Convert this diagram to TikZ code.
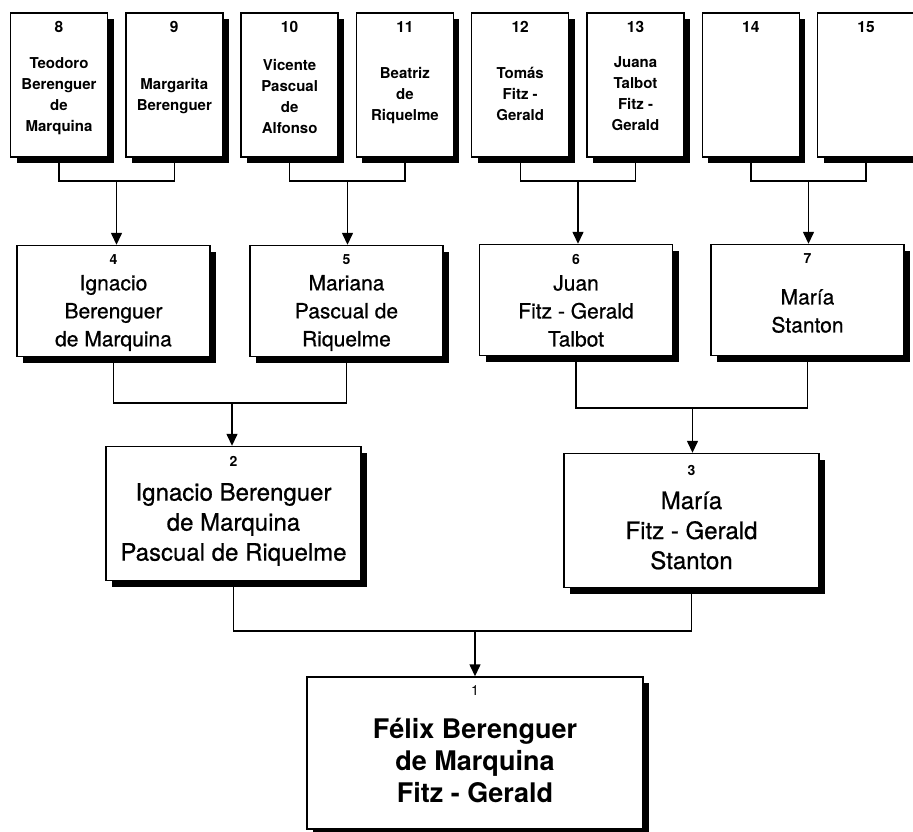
\documentclass[tikz,border=0pt]{standalone}
\usepackage{fontspec}
\setmainfont{TeX Gyre Heros}
\newfontfamily\inkfont{TeX Gyre Heros}[FakeBold=0.7]
\usetikzlibrary{arrows.meta,shadows,positioning}

\begin{document}
\begin{tikzpicture}[x=1pt,y=-1pt,
   box/.style={draw, line width=1.4pt, fill=white, inner sep=0pt,
      drop shadow={opacity=1, fill=black, shadow xshift=6pt, shadow yshift=-6pt}},
   gtop/.style={box, minimum width=97pt, minimum height=144pt},
   gmid/.style={box, minimum width=193pt, minimum height=111pt},
   glow/.style={box, minimum width=255pt, minimum height=134pt},
   groot/.style={box, minimum width=336pt, minimum height=152pt},
   numtop/.style={inner sep=0pt, font=\fontsize{15.5}{17}\selectfont\bfseries},
   num/.style={inner sep=0pt, font=\fontsize{14}{16}\selectfont\bfseries},
   ntop/.style={align=center, inner sep=0pt, font=\fontsize{15}{21}\selectfont\bfseries},
   nmid/.style={align=center, inner sep=0pt, font=\inkfont\fontsize{21}{28}\selectfont},
   nlow/.style={align=center, inner sep=0pt, font=\inkfont\fontsize{24}{30}\selectfont},
   nroot/.style={align=center, inner sep=0pt, font=\fontsize{27}{32}\selectfont\bfseries},
   link/.style={line width=1.4pt},
   arr/.style={link, -{Triangle[length=12pt,width=11pt]}}]
   \useasboundingbox (0,0) rectangle (913,832);

   % great-grandparents
   \node[gtop] (b8) at (59,85) {};
   \node[gtop] (b9) at (174.3,85) {};
   \node[gtop] (b10) at (289.6,85) {};
   \node[gtop] (b11) at (404.9,85) {};
   \node[gtop] (b12) at (520.2,85) {};
   \node[gtop] (b13) at (635.5,85) {};
   \node[gtop] (b14) at (750.8,85) {};
   \node[gtop] (b15) at (866.1,85) {};
   \node[numtop, below=9pt of b8.north] (n8) {8};
   \node[numtop, below=9pt of b9.north] (n9) {9};
   \node[numtop, below=9pt of b10.north] (n10) {10};
   \node[numtop, below=9pt of b11.north] (n11) {11};
   \node[numtop, below=9pt of b12.north] (n12) {12};
   \node[numtop, below=9pt of b13.north] (n13) {13};
   \node[numtop, below=9pt of b14.north] (n14) {14};
   \node[numtop, below=9pt of b15.north] (n15) {15};
   \node[ntop] (t8) at ([yshift=-11pt]b8.center) {Teodoro\\Berenguer\\de\\Marquina};
   \node[ntop] (t9) at ([yshift=-11pt]b9.center) {Margarita\\Berenguer};
   \node[ntop] (t10) at ([yshift=-11pt]b10.center) {Vicente\\Pascual\\de\\Alfonso};
   \node[ntop] (t11) at ([yshift=-11pt]b11.center) {Beatriz\\de\\Riquelme};
   \node[ntop] (t12) at ([yshift=-9pt]b12.center) {Tomás\\Fitz -\\Gerald};
   \node[ntop] (t13) at ([yshift=-9pt]b13.center) {Juana\\Talbot\\Fitz -\\Gerald};

   % grandparents
   \node[gmid] (b4) at (113.5,301) {};
   \node[gmid] (b5) at (346.5,301) {};
   \node[gmid] (b6) at (576,300) {};
   \node[gmid] (b7) at (807.5,300) {};
   \node[num, below=10pt of b4.north] (n4) {4};
   \node[num, below=10pt of b5.north] (n5) {5};
   \node[num, below=10pt of b6.north] (n6) {6};
   \node[num, below=10pt of b7.north] (n7) {7};
   \node[nmid] (t4) at ([yshift=-12pt]b4.center) {Ignacio\\Berenguer\\de Marquina};
   \node[nmid] (t5) at ([yshift=-12pt]b5.center) {Mariana\\Pascual de\\Riquelme};
   \node[nmid] (t6) at ([yshift=-11pt]b6.center) {Juan\\Fitz - Gerald\\Talbot};
   \node[nmid] (t7) at ([yshift=-11pt]b7.center) {María\\Stanton};

   % parents
   \node[glow] (b2) at (233.5,513.5) {};
   \node[glow] (b3) at (691.5,520.5) {};
   \node[num, below=10pt of b2.north] (n2) {2};
   \node[num, below=12pt of b3.north] (n3) {3};
   \node[nlow] (t2) at ([yshift=-11pt]b2.center) {Ignacio Berenguer\\de Marquina\\Pascual de Riquelme};
   \node[nlow] (t3) at ([yshift=-10pt]b3.center) {María\\Fitz - Gerald\\Stanton};

   % subject
   \node[groot] (b1) at (475,753) {};
   \node[num, font=\fontsize{14}{16}\selectfont, below=9pt of b1.north] (n1) {1};
   \node[nroot] (t1) at ([yshift=-8pt]b1.center) {Félix Berenguer\\de Marquina\\Fitz - Gerald};

   % connectors
   \coordinate (j4) at (116.5,181);
   \coordinate (j5) at (347.5,181);
   \coordinate (j6) at (578,181);
   \coordinate (j7) at (808.5,181);
   \coordinate (j2) at (232,403);
   \coordinate (j3) at (692.5,408);
   \coordinate (j1) at (475,631);
   \draw[link] (b8.south) |- (j4) -| (b9.south);
   \draw[link] (b10.south) |- (j5) -| (b11.south);
   \draw[link] (b12.south) |- (j6) -| (b13.south);
   \draw[link] (b14.south) |- (j7) -| (b15.south);
   \draw[arr] (j4) -- (j4 |- b4.north);
   \draw[arr] (j5) -- (j5 |- b5.north);
   \draw[arr] (j6) -- (j6 |- b6.north);
   \draw[arr] (j7) -- (j7 |- b7.north);
   \draw[link] (b4.south) |- (j2) -| (b5.south);
   \draw[link] (b6.south) |- (j3) -| (b7.south);
   \draw[arr] (j2) -- (j2 |- b2.north);
   \draw[arr] (j3) -- (j3 |- b3.north);
   \draw[link] (b2.south) |- (j1) -| (b3.south);
   \draw[arr] (j1) -- (b1.north);
\end{tikzpicture}
\end{document}
